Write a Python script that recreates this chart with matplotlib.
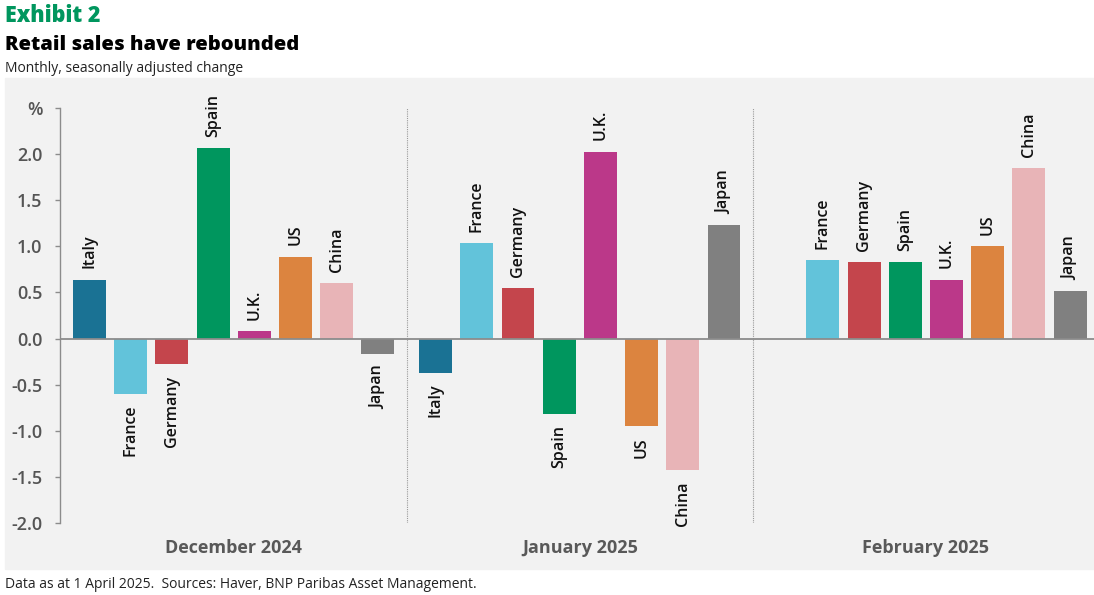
import numpy as np
import matplotlib.pyplot as plt
from matplotlib.patches import Rectangle
from matplotlib.transforms import blended_transform_factory

countries = ['Italy', 'France', 'Germany', 'Spain', 'U.K.', 'US', 'China', 'Japan']
colors = ['#1a7294', '#62c3da', '#c4454c', '#00965e', '#bb3889', '#dc843f', '#e8b4b7', '#808080']
months = ['December 2024', 'January 2025', 'February 2025']

dec_2024 = [0.64, -0.60, -0.28, 2.07, 0.08, 0.89, 0.60, -0.17]
jan_2025 = [-0.37, 1.04, 0.55, -0.82, 2.03, -0.95, -1.43, 1.23]
feb_2025 = [None, 0.85, 0.83, 0.83, 0.64, 1.00, 1.85, 0.52]  # no Italy reading yet

yticks = [-2.0, -1.5, -1.0, -0.5, 0.0, 0.5, 1.0, 1.5, 2.0]

W, H = 1094, 595
fig = plt.figure(figsize=(W / 100, H / 100), dpi=100)
plt.rcParams['font.family'] = ['Open Sans', 'DejaVu Sans']

# grey panel behind the chart
fig.patches.append(Rectangle((5 / W, 1 - 568.7 / H), 1 - 5 / W, (568.7 - 78) / H,
                             transform=fig.transFigure, color='#f2f2f2', zorder=-10))

ax = fig.add_axes([60 / W, 1 - 522.7 / H, (W - 60) / W, (522.7 - 108.3) / H])
ax.set_facecolor('none')

group_step = 8.4
for g, values in enumerate([dec_2024, jan_2025, feb_2025]):
    for i, v in enumerate(values):
        if v is None:
            continue
        x = g * group_step + i
        ax.bar(x, v, width=0.8, color=colors[i], zorder=2)
        if v >= 0:
            ax.annotate(countries[i], (x, v), xytext=(0, 8), textcoords='offset points',
                        rotation=90, ha='center', va='bottom', fontsize=11.5,
                        fontweight='semibold', color='#111111')
        else:
            ax.annotate(countries[i], (x, v), xytext=(0, -8), textcoords='offset points',
                        rotation=90, ha='center', va='top', fontsize=11.5,
                        fontweight='semibold', color='#111111')

# dividers between months
for g in range(2):
    ax.axvline(g * group_step + 7.7, color='#999999', lw=0.8, ls=(0, (1, 1)), zorder=1)

ax.axhline(0, color='#8c8c8c', lw=1.3, zorder=3)

ax.set_xlim(-0.716, 24.38)
ax.set_ylim(-2.0, 2.5)
ax.set_xticks([])
ax.set_yticks(yticks + [2.5])
ax.set_yticklabels([f'{t:.1f}' for t in yticks] + ['%'])
ax.tick_params(axis='y', length=3.6, width=1, color='#8c8c8c', labelcolor='#555555',
               labelsize=13, pad=9)
for lab in ax.get_yticklabels():
    lab.set_fontweight('semibold')
for s in ['top', 'right', 'bottom']:
    ax.spines[s].set_visible(False)
ax.spines['left'].set_color('#8c8c8c')
ax.spines['left'].set_linewidth(1)

# month labels under each group
tr = blended_transform_factory(ax.transData, fig.transFigure)
for g, m in enumerate(months):
    ax.text(g * group_step + 3.5, 1 - 552.7 / H, m, transform=tr, ha='center',
            va='baseline', fontsize=13, fontweight='bold', color='#595959')

fig.text(5 / W, 1 - 22 / H, 'Exhibit 2', fontsize=15.5, fontweight='heavy',
         color='#00965e', va='baseline')
fig.text(5 / W, 1 - 50 / H, 'Retail sales have rebounded', fontsize=14.5,
         fontweight='heavy', color='black', va='baseline')
fig.text(5 / W, 1 - 72 / H, 'Monthly, seasonally adjusted change', fontsize=10,
         color='#222222', va='baseline')
fig.text(5 / W, 1 - 588 / H,
         'Data as at 1 April 2025.  Sources: Haver, BNP Paribas Asset Management.',
         fontsize=10, color='#222222', va='baseline')

fig.savefig('out.png', dpi=100)
